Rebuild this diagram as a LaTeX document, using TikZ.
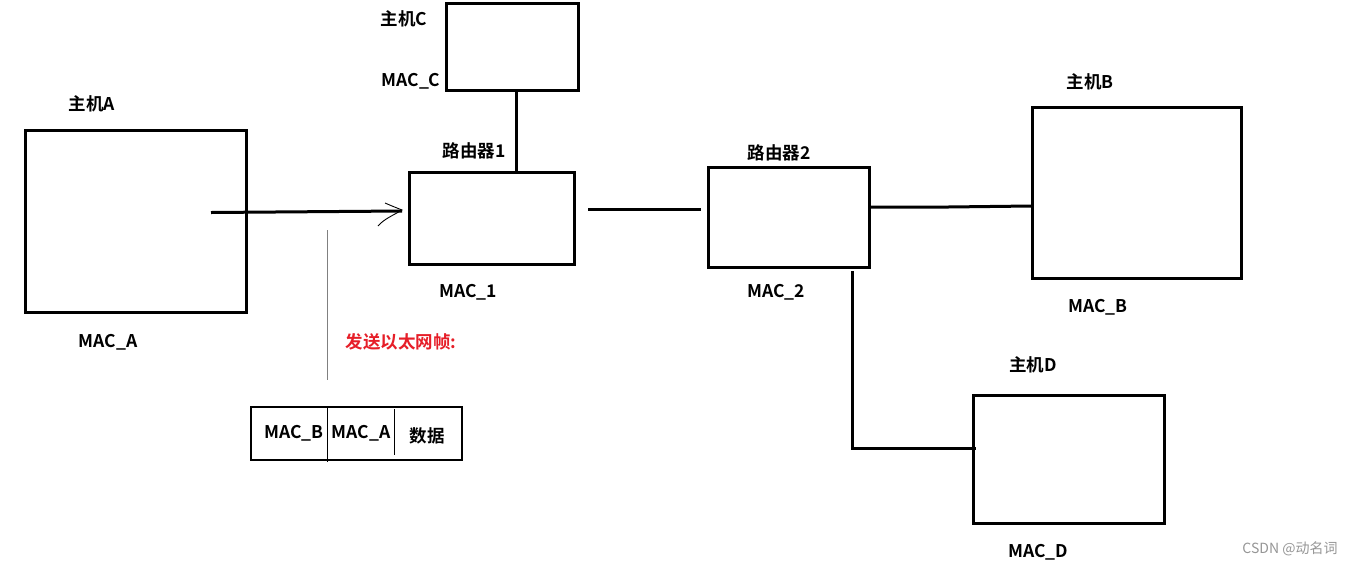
\documentclass[tikz,border=0pt]{standalone}
\usepackage{fontspec}
\setmainfont{Noto Sans CJK SC}
\newfontfamily\cjkb{Noto Sans CJK SC Bold}
\begin{document}
\begin{tikzpicture}[x=1pt,y=-1pt,
  devbox/.style={draw,line width=3pt},
  wire/.style={line width=3pt},
  lbl/.style={font=\fontsize{17.5}{19}\cjkb\selectfont,inner sep=0pt},
  redlbl/.style={lbl,text={rgb,255:red,230;green,30;blue,40}},
  thin/.style={line width=1.1pt},
  cell/.style={font=\fontsize{17.5}{19}\cjkb\selectfont,inner sep=0pt}]
\useasboundingbox (0,0) rectangle (1353,566);
\fill[white] (0,0) rectangle (1353,566);
% device boxes
\draw[devbox] (25,130) rectangle (246,312);
\draw[devbox] (446,3) rectangle (578,90);
\draw[devbox] (409,172) rectangle (574,264);
\draw[devbox] (708,167) rectangle (869,267);
\draw[devbox] (1032,107) rectangle (1241,278);
\draw[devbox] (973,395) rectangle (1164,523);
% named connection points
\coordinate (cBot) at (516,90);
\coordinate (r1Top) at (516,172);
\coordinate (arS) at (211,212.5);
\coordinate (arE) at (402,211);
\coordinate (l12a) at (588,209);
\coordinate (l12b) at (701,209);
\coordinate (r2R) at (869,207);
\coordinate (hBL) at (1031,206);
\coordinate (r2D) at (852,271);
\coordinate (cornerD) at (852,448.5);
\coordinate (hDL) at (976,448.5);
\coordinate (g1) at (327,230);
\coordinate (g2) at (327,380);
% connectors
\draw[wire] (cBot) -- (r1Top);
\draw[wire] (arS) -- (arE);
\draw[line width=0.9pt] (385,203) .. controls (392,206) .. (402,210) .. controls (392,216) and (384,219) .. (378,226);
\draw[wire] (l12a) -- (l12b);
\draw[wire] (r2R) -- (948,207) -- (hBL);
\draw[wire] (r2D) -- (cornerD) -- (hDL);
\draw[line width=0.8pt,gray] (g1) -- (g2);
% labels
\node[lbl] (tA) at (92,104) {主机A};
\node[lbl] (mA) at (108,342) {MAC\_A};
\node[lbl] (tC) at (404,19) {主机C};
\node[lbl] (mC) at (411,81) {MAC\_C};
\node[lbl] (t1) at (474,151) {路由器1};
\node[lbl] (m1) at (468,292) {MAC\_1};
\node[lbl] (t2) at (779,153) {路由器2};
\node[lbl] (m2) at (776,292) {MAC\_2};
\node[lbl] (tB) at (1090,82) {主机B};
\node[lbl] (mB) at (1098,307) {MAC\_B};
\node[lbl] (tD) at (1033,365) {主机D};
\node[lbl] (mD) at (1038,552) {MAC\_D};
\node[redlbl] (send) at (401,342) {发送以太网帧:};
% frame
\draw[thin] (251,407) rectangle (462,460);
\draw[thin] (327.5,407) -- (327.5,462);
\draw[thin] (394.5,409) -- (394.5,455);
\node[cell] (f1) at (294,433) {MAC\_B};
\node[cell] (f2) at (361,433) {MAC\_A};
\node[cell] (f3) at (427,436) {数据};
% watermark
\node[font=\fontsize{14}{16}\selectfont,text={rgb,255:red,150;green,150;blue,150},inner sep=0pt] (wm) at (1290,549) {CSDN @动名词};
\end{tikzpicture}
\end{document}
